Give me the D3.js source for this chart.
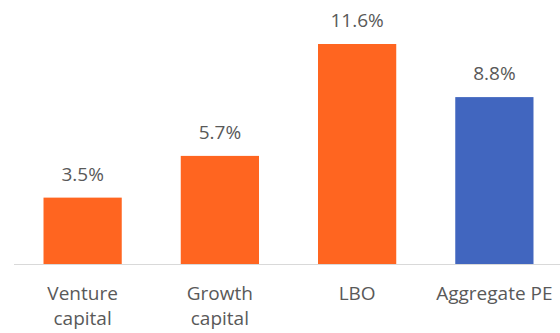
<!DOCTYPE html>
<html>
<head>
<meta charset="utf-8">
<script src="https://cdn.jsdelivr.net/npm/d3@7"></script>
<style>
  body { margin: 0; background: #fff; }
  svg { display: block; }
</style>
</head>
<body>
<svg id="chart" width="560" height="333"></svg>
<script>
// data
const categories = [['Venture', 'capital'], ['Growth', 'capital'], ['LBO'], ['Aggregate PE']];
const values = [3.5, 5.7, 11.6, 8.8];
const barColors = ['#FF6520', '#FF6520', '#FF6520', '#4166BF'];

const svg = d3.select('#chart');
const baseY = 264;

// scales
const x = d3.scaleBand()
  .domain(d3.range(values.length))
  .range([14, 563])
  .paddingInner(0.43)
  .paddingOuter(0.215);

const y = d3.scaleLinear().domain([0, 11.6]).range([baseY, 44]);

// bars
svg.selectAll('rect.bar')
  .data(values)
  .enter()
  .append('rect')
  .attr('class', 'bar')
  .attr('x', (d, i) => x(i))
  .attr('y', d => y(d))
  .attr('width', x.bandwidth())
  .attr('height', d => baseY - y(d))
  .attr('fill', (d, i) => barColors[i]);

// axis line
svg.append('line')
  .attr('x1', 14).attr('x2', 560)
  .attr('y1', baseY + 0.5).attr('y2', baseY + 0.5)
  .attr('stroke', '#D9D9D9')
  .attr('stroke-width', 1);

// value labels
svg.selectAll('text.val')
  .data(values)
  .enter()
  .append('text')
  .attr('class', 'val')
  .attr('x', (d, i) => x(i) + x.bandwidth() / 2)
  .attr('y', d => y(d) - 17)
  .attr('text-anchor', 'middle')
  .attr('font-family', 'Open Sans, sans-serif')
  .attr('font-size', 19)
  .attr('fill', '#595959')
  .text(d => d.toFixed(1) + '%');

// category labels
const cat = svg.selectAll('text.cat')
  .data(categories)
  .enter()
  .append('text')
  .attr('class', 'cat')
  .attr('x', (d, i) => x(i) + x.bandwidth() / 2)
  .attr('y', 300)
  .attr('text-anchor', 'middle')
  .attr('font-family', 'Open Sans, sans-serif')
  .attr('font-size', 19)
  .attr('fill', '#595959');

cat.selectAll('tspan')
  .data(d => d)
  .enter()
  .append('tspan')
  .attr('x', function() { return this.parentNode.getAttribute('x'); })
  .attr('dy', (d, i) => i === 0 ? 0 : 25)
  .text(d => d);
</script>
</body>
</html>
